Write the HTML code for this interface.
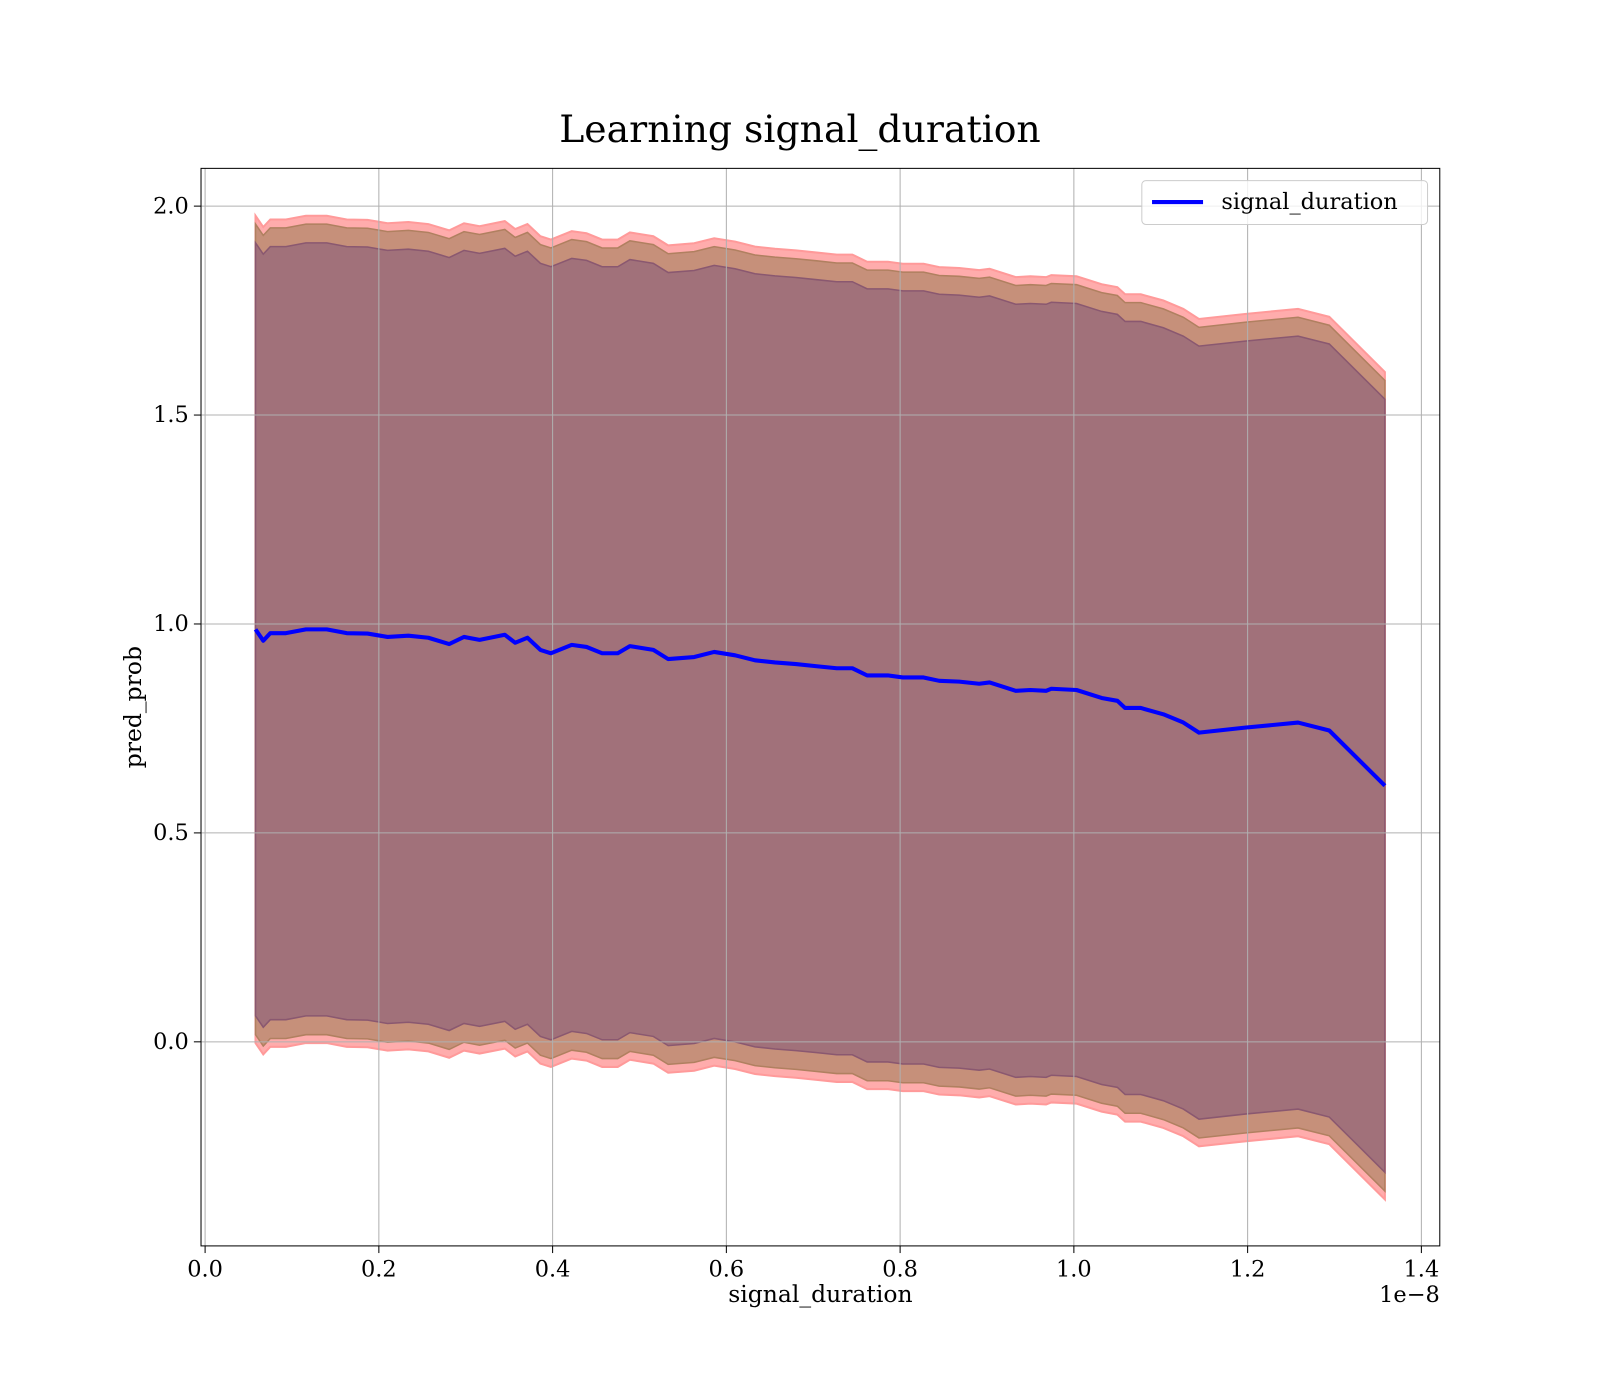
<!DOCTYPE html>
<html><head><meta charset="utf-8">
<style>
html,body{margin:0;padding:0;background:#fff;overflow:hidden;}
svg{display:block;font-family:"DejaVu Serif","Liberation Serif",serif;}
</style></head>
<body>
<svg id="chart" width="1600" height="1400" viewBox="0 0 1600 1400" xmlns="http://www.w3.org/2000/svg">
<rect width="1600" height="1400" fill="#fff"/>
<g transform="scale(1.0204)">
<text x="784" y="139" font-size="37" text-anchor="middle" fill="#000">Learning signal_duration</text>
<g id="bands"></g>
<g id="grid"></g>
<g id="lines"></g>
<rect x="197" y="165" width="1214" height="1056" fill="none" stroke="#000" stroke-width="1"/>
<g id="ticks"></g>
<text x="804" y="1276" font-size="23" text-anchor="middle">signal_duration</text>
<text x="1411" y="1276" font-size="22" text-anchor="end">1e−8</text>
<text transform="translate(138,693) rotate(-90)" font-size="23" text-anchor="middle">pred_prob</text>
<g>
<rect x="1119" y="177" width="280" height="43" rx="4" fill="#fff" fill-opacity="0.8" stroke="#ccc"/>
<line x1="1129" y1="198" x2="1179" y2="198" stroke="#0000ff" stroke-width="4"/>
<text x="1197" y="205" font-size="22">signal_duration</text>
</g>
</g>
</svg>
<script>
const xs=[0.058,0.067,0.075,0.093,0.116,0.140,0.163,0.187,0.210,0.234,0.257,0.281,0.298,0.316,0.345,0.357,0.371,0.386,0.398,0.422,0.439,0.457,0.475,0.489,0.516,0.533,0.563,0.586,0.610,0.633,0.656,0.680,0.704,0.727,0.745,0.762,0.786,0.803,0.827,0.845,0.868,0.891,0.903,0.933,0.950,0.968,0.974,1.003,1.032,1.050,1.059,1.077,1.103,1.126,1.144,1.197,1.258,1.294,1.358];
const meanVals=[0.987,0.960,0.978,0.978,0.987,0.987,0.978,0.977,0.969,0.972,0.967,0.952,0.969,0.962,0.974,0.955,0.967,0.938,0.930,0.950,0.945,0.930,0.930,0.947,0.938,0.916,0.921,0.933,0.925,0.913,0.908,0.904,0.899,0.894,0.894,0.877,0.877,0.872,0.872,0.864,0.862,0.857,0.860,0.840,0.842,0.840,0.845,0.842,0.823,0.816,0.799,0.799,0.784,0.764,0.740,0.752,0.764,0.745,0.613];
const innerWidth=0.925, midWidth=0.97, outerWidth=0.99;
const xTicks=[0.0,0.2,0.4,0.6,0.8,1.0,1.2,1.4];
const yTicks=[0.0,0.5,1.0,1.5,2.0];
const X=v=>201+v*851.4, Y=v=>1021-v*409.5;
const NS="http://www.w3.org/2000/svg";
function mk(tag,parent,attrs){const e=document.createElementNS(NS,tag);for(const k in attrs)e.setAttribute(k,attrs[k]);parent.appendChild(e);return e;}
function band(w){let up=xs.map((x,i)=>X(x).toFixed(1)+","+Y(meanVals[i]+w).toFixed(1));let lo=xs.map((x,i)=>X(x).toFixed(1)+","+Y(meanVals[i]-w).toFixed(1)).reverse();return "M"+up.join("L")+"L"+lo.join("L")+"Z";}
const bands=document.getElementById('bands');
const b1=mk('path',bands,{d:band(outerWidth),fill:'#ffacac',stroke:'#ff9a9a','stroke-width':2});


const b2=mk('path',bands,{d:band(midWidth),fill:'#c6907a',stroke:'#b08060','stroke-width':1.5});


const b3=mk('path',bands,{d:band(innerWidth),fill:'#a1717a',stroke:'#8a5870','stroke-width':1.5});


const grid=document.getElementById('grid'), ticks=document.getElementById('ticks');
xTicks.forEach(t=>{
  const g=mk('line',grid,{x1:X(t),x2:X(t),y1:165,y2:1221,stroke:'#b0b0b0','stroke-width':1});
  
  
  mk('line',ticks,{x1:X(t),x2:X(t),y1:1221,y2:1228,stroke:'#000'});
  const tx=mk('text',ticks,{x:X(t),y:1251,'font-size':22,'text-anchor':'middle'});
  tx.textContent=t.toFixed(1);
  
  
});
yTicks.forEach(t=>{
  const g=mk('line',grid,{x1:197,x2:1411,y1:Y(t),y2:Y(t),stroke:'#b0b0b0','stroke-width':1});
  
  
  mk('line',ticks,{x1:190,x2:197,y1:Y(t),y2:Y(t),stroke:'#000'});
  const tx=mk('text',ticks,{x:185,y:Y(t)+7,'font-size':22,'text-anchor':'end'});
  tx.textContent=t.toFixed(1);
  
  
});
const ln=mk('polyline',document.getElementById('lines'),{points:xs.map((x,i)=>X(x).toFixed(1)+","+Y(meanVals[i]).toFixed(1)).join(" "),fill:'none',stroke:'#0000ff','stroke-width':4,'stroke-linejoin':'round'});


</script>
</body></html>
